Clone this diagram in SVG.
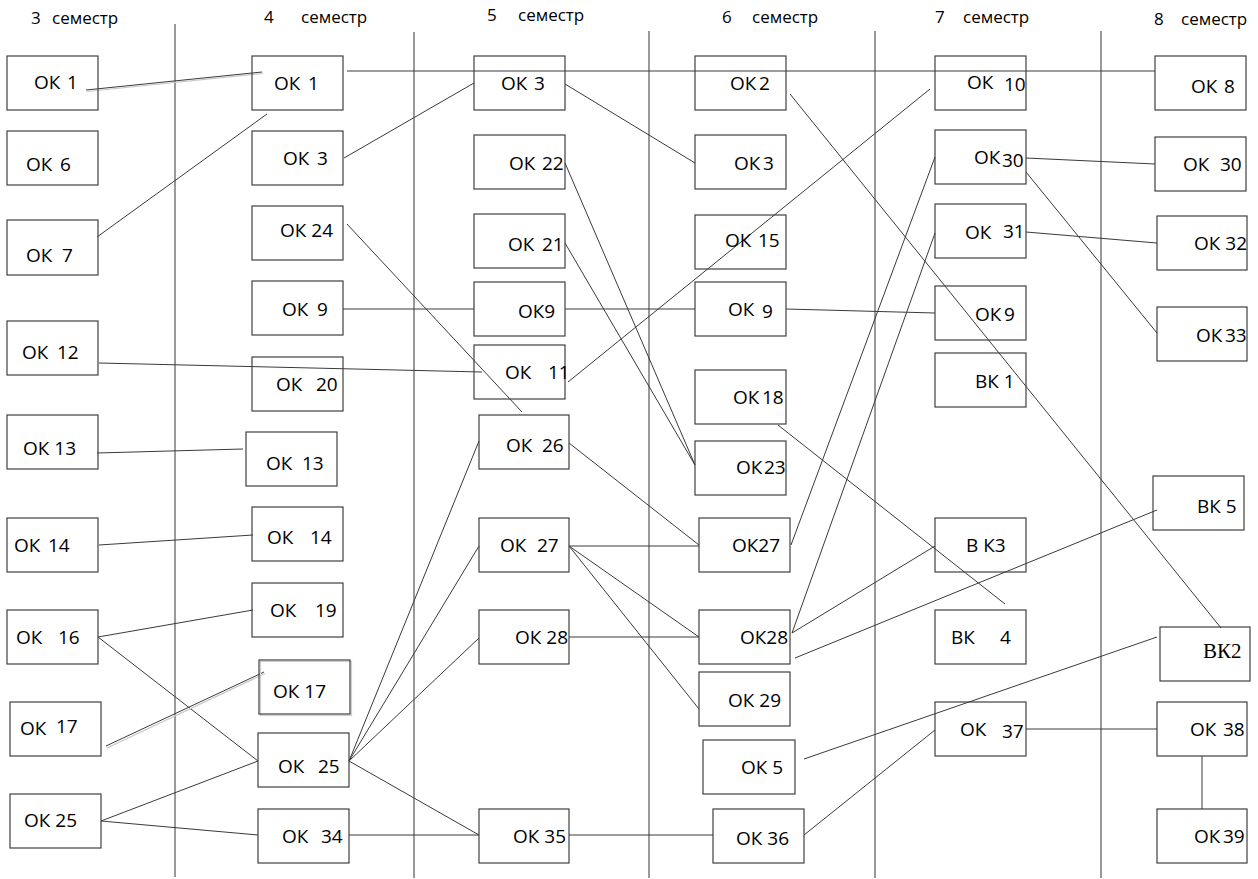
<svg xmlns="http://www.w3.org/2000/svg" width="1258" height="879" viewBox="0 0 1258 879">
<style>
rect.b{fill:none;stroke:#404040;stroke-width:1.2}
.t{font-family:"Open Sans","Noto Sans",sans-serif;font-size:19px;fill:#000}
.h{font-family:"Open Sans","Noto Sans",sans-serif;font-size:17px;fill:#000}
.s{font-family:"Liberation Serif","Times New Roman",serif;font-size:21px;fill:#000}
#dividers line{stroke:#555;stroke-width:1.2}
#connectors line{stroke:#3a3a3a;stroke-width:1}
line.sh{stroke:#c8c8c8 !important;stroke-width:1.2 !important}
</style>
<rect width="1258" height="879" fill="#fff"/>
<g id="headers">
<text class="h" x="31" y="24">3<tspan x="52">семестр</tspan></text>
<text class="h" x="264" y="23">4<tspan x="301">семестр</tspan></text>
<text class="h" x="487" y="21">5<tspan x="518">семестр</tspan></text>
<text class="h" x="722" y="23">6<tspan x="752">семестр</tspan></text>
<text class="h" x="935" y="23">7<tspan x="963">семестр</tspan></text>
<text class="h" x="1154" y="25">8<tspan x="1181">семестр</tspan></text>
</g>
<g id="dividers">
<line x1="175" y1="24" x2="175" y2="877"/>
<line x1="414" y1="32" x2="414" y2="878"/>
<line x1="649" y1="31" x2="649" y2="878"/>
<line x1="875" y1="31" x2="875" y2="878"/>
<line x1="1101" y1="31" x2="1101" y2="878"/>
</g>
<g id="connectors">
<line class="sh" x1="87" y1="91.5" x2="263" y2="73.5"/>
<line x1="86" y1="90" x2="262" y2="72"/>
<line x1="97" y1="237" x2="267" y2="114"/>
<line x1="344" y1="158" x2="474" y2="83"/>
<line x1="347" y1="71" x2="1155" y2="71"/>
<line x1="347" y1="224" x2="522" y2="412"/>
<line x1="343" y1="309" x2="474" y2="309"/>
<line x1="565" y1="309" x2="695" y2="309"/>
<line x1="786" y1="309" x2="935" y2="313"/>
<line x1="99" y1="363" x2="482" y2="372"/>
<line x1="97" y1="453" x2="243" y2="449"/>
<line x1="99" y1="545" x2="253" y2="535"/>
<line x1="98" y1="637" x2="253" y2="610"/>
<line x1="98" y1="637" x2="258" y2="761"/>
<line class="sh" x1="107" y1="748" x2="265" y2="673.5"/>
<line x1="106" y1="746" x2="264" y2="672"/>
<line x1="101" y1="821" x2="258" y2="761"/>
<line x1="101" y1="821" x2="258" y2="835"/>
<line x1="349" y1="761" x2="479" y2="441"/>
<line x1="349" y1="761" x2="479" y2="546"/>
<line x1="349" y1="761" x2="479" y2="638"/>
<line x1="349" y1="761" x2="479" y2="835"/>
<line x1="349" y1="835" x2="479" y2="835"/>
<line x1="569" y1="835" x2="713" y2="835"/>
<line x1="565" y1="84" x2="695" y2="163"/>
<line x1="565" y1="163" x2="695" y2="465"/>
<line x1="565" y1="243" x2="695" y2="465"/>
<line x1="568" y1="382" x2="930" y2="89"/>
<line x1="790" y1="94" x2="1221" y2="628"/>
<line x1="778" y1="425" x2="1005" y2="604"/>
<line x1="569" y1="443" x2="699" y2="545"/>
<line x1="569" y1="546" x2="699" y2="546"/>
<line x1="569" y1="546" x2="699" y2="637"/>
<line x1="569" y1="546" x2="699" y2="709"/>
<line x1="569" y1="637" x2="699" y2="637"/>
<line x1="791" y1="545" x2="935" y2="157"/>
<line x1="792" y1="633" x2="935" y2="233"/>
<line x1="792" y1="633" x2="935" y2="546"/>
<line x1="795" y1="658" x2="1157" y2="510"/>
<line x1="804" y1="759" x2="1157" y2="637"/>
<line x1="804" y1="835" x2="935" y2="730"/>
<line x1="1026" y1="158" x2="1155" y2="164"/>
<line x1="1026" y1="172" x2="1157" y2="333"/>
<line x1="1026" y1="232" x2="1157" y2="243"/>
<line x1="1026" y1="729" x2="1157" y2="729"/>
<line x1="1202" y1="756" x2="1202" y2="809"/>
</g>
<g id="s3-ok1"><rect class="b" x="7" y="56" width="91" height="54"/><text class="t" x="34" y="89">ОК <tspan x="67">1</tspan></text></g>
<g id="s3-ok6"><rect class="b" x="7" y="131" width="91" height="54"/><text class="t" x="26" y="171">ОК <tspan x="60">6</tspan></text></g>
<g id="s3-ok7"><rect class="b" x="7" y="220" width="91" height="55"/><text class="t" x="26" y="262">ОК <tspan x="62">7</tspan></text></g>
<g id="s3-ok12"><rect class="b" x="7" y="321" width="91" height="54"/><text class="t" x="22" y="359">ОК <tspan x="57">12</tspan></text></g>
<g id="s3-ok13"><rect class="b" x="7" y="415" width="91" height="54"/><text class="t" x="23" y="455">ОК 13</text></g>
<g id="s3-ok14"><rect class="b" x="7" y="518" width="91" height="54"/><text class="t" x="14" y="552">ОК <tspan x="48">14</tspan></text></g>
<g id="s3-ok16"><rect class="b" x="7" y="610" width="91" height="54"/><text class="t" x="16" y="644">ОК <tspan x="58">16</tspan></text></g>
<g id="s3-ok17"><rect class="b" x="10" y="702" width="91" height="54"/><text class="t" x="20" y="735">ОК <tspan x="56" y="733">17</tspan></text></g>
<g id="s3-ok25"><rect class="b" x="10" y="794" width="91" height="54"/><text class="t" x="24" y="827">ОК 25</text></g>
<g id="s4-ok1"><rect class="b" x="252" y="56" width="91" height="54"/><text class="t" x="274" y="90">ОК <tspan x="308">1</tspan></text></g>
<g id="s4-ok3"><rect class="b" x="252" y="131" width="91" height="54"/><text class="t" x="283" y="165">ОК <tspan x="317">3</tspan></text></g>
<g id="s4-ok24"><rect class="b" x="252" y="206" width="91" height="54"/><text class="t" x="280" y="237">ОК 24</text></g>
<g id="s4-ok9"><rect class="b" x="252" y="281" width="91" height="54"/><text class="t" x="282" y="316">ОК <tspan x="317">9</tspan></text></g>
<g id="s4-ok20"><rect class="b" x="252" y="357" width="91" height="54"/><text class="t" x="276" y="391">ОК <tspan x="316">20</tspan></text></g>
<g id="s4-ok13"><rect class="b" x="246" y="432" width="91" height="54"/><text class="t" x="266" y="470">ОК <tspan x="302">13</tspan></text></g>
<g id="s4-ok14"><rect class="b" x="252" y="507" width="91" height="54"/><text class="t" x="267" y="544">ОК <tspan x="310">14</tspan></text></g>
<g id="s4-ok19"><rect class="b" x="252" y="583" width="91" height="54"/><text class="t" x="270" y="617">ОК <tspan x="315">19</tspan></text></g>
<g id="s4-ok17"><rect x="260.5" y="661.5" width="91" height="54" fill="none" stroke="#d0d0d0" stroke-width="1.2"/><rect class="b" x="259" y="660" width="91" height="54"/><text class="t" x="273" y="698">ОК 17</text></g>
<g id="s4-ok25"><rect class="b" x="258" y="733" width="91" height="54"/><text class="t" x="278" y="773">ОК <tspan x="318">25</tspan></text></g>
<g id="s4-ok34"><rect class="b" x="258" y="809" width="91" height="54"/><text class="t" x="282" y="843">ОК <tspan x="321">34</tspan></text></g>
<g id="s5-ok3"><rect class="b" x="474" y="56" width="91" height="54"/><text class="t" x="501" y="90">ОК <tspan x="534">3</tspan></text></g>
<g id="s5-ok22"><rect class="b" x="474" y="135" width="91" height="54"/><text class="t" x="509" y="170">ОК <tspan x="542">22</tspan></text></g>
<g id="s5-ok21"><rect class="b" x="474" y="214" width="91" height="54"/><text class="t" x="508" y="251">ОК <tspan x="542">21</tspan></text></g>
<g id="s5-ok9"><rect class="b" x="474" y="282" width="91" height="54"/><text class="t" x="518" y="318">ОК9</text></g>
<g id="s5-ok11"><rect class="b" x="474" y="345" width="91" height="54"/><text class="t" x="505" y="379">ОК <tspan x="548">11</tspan></text></g>
<g id="s5-ok26"><rect class="b" x="479" y="415" width="90" height="54"/><text class="t" x="506" y="452">ОК <tspan x="542">26</tspan></text></g>
<g id="s5-ok27"><rect class="b" x="479" y="518" width="90" height="54"/><text class="t" x="500" y="552">ОК <tspan x="537">27</tspan></text></g>
<g id="s5-ok28"><rect class="b" x="479" y="610" width="90" height="54"/><text class="t" x="515" y="644">ОК 28</text></g>
<g id="s5-ok35"><rect class="b" x="479" y="809" width="90" height="54"/><text class="t" x="513" y="843">ОК 35</text></g>
<g id="s6-ok2"><rect class="b" x="695" y="56" width="91" height="54"/><text class="t" x="730" y="90">ОК<tspan x="759">2</tspan></text></g>
<g id="s6-ok3"><rect class="b" x="695" y="135" width="91" height="54"/><text class="t" x="734" y="170">ОК<tspan x="763">3</tspan></text></g>
<g id="s6-ok15"><rect class="b" x="695" y="215" width="91" height="54"/><text class="t" x="725" y="247">ОК<tspan x="758">15</tspan></text></g>
<g id="s6-ok9"><rect class="b" x="695" y="282" width="91" height="54"/><text class="t" x="728" y="316">ОК <tspan x="762" y="318">9</tspan></text></g>
<g id="s6-ok18"><rect class="b" x="695" y="370" width="91" height="54"/><text class="t" x="733" y="404">ОК<tspan x="762">18</tspan></text></g>
<g id="s6-ok23"><rect class="b" x="695" y="441" width="91" height="54"/><text class="t" x="736" y="474">ОК<tspan x="764">23</tspan></text></g>
<g id="s6-ok27"><rect class="b" x="699" y="518" width="91" height="54"/><text class="t" x="732" y="552">ОК27</text></g>
<g id="s6-ok28"><rect class="b" x="699" y="610" width="91" height="54"/><text class="t" x="740" y="644">ОК28</text></g>
<g id="s6-ok29"><rect class="b" x="699" y="672" width="91" height="54"/><text class="t" x="728" y="707">ОК 29</text></g>
<g id="s6-ok5"><rect class="b" x="703" y="740" width="92" height="54"/><text class="t" x="741" y="774">ОК 5</text></g>
<g id="s6-ok36"><rect class="b" x="713" y="809" width="91" height="54"/><text class="t" x="736" y="845">ОК 36</text></g>
<g id="s7-ok10"><rect class="b" x="935" y="56" width="91" height="54"/><text class="t" x="967" y="89">ОК <tspan x="1004" y="91">10</tspan></text></g>
<g id="s7-ok30"><rect class="b" x="935" y="130" width="91" height="54"/><text class="t" x="974" y="164">ОК<tspan x="1002" y="167">30</tspan></text></g>
<g id="s7-ok31"><rect class="b" x="935" y="204" width="91" height="54"/><text class="t" x="965" y="239">ОК <tspan x="1003" y="238">31</tspan></text></g>
<g id="s7-ok9"><rect class="b" x="935" y="286" width="91" height="54"/><text class="t" x="975" y="321">ОК<tspan x="1004">9</tspan></text></g>
<g id="s7-vk1"><rect class="b" x="935" y="353" width="91" height="54"/><text class="t" x="975" y="388">ВК 1</text></g>
<g id="s7-vk3"><rect class="b" x="935" y="518" width="91" height="54"/><text class="t" x="966" y="552">В К3</text></g>
<g id="s7-vk4"><rect class="b" x="935" y="610" width="91" height="54"/><text class="t" x="951" y="644">ВК <tspan x="1000">4</tspan></text></g>
<g id="s7-ok37"><rect class="b" x="935" y="702" width="91" height="54"/><text class="t" x="960" y="736">ОК <tspan x="1002" y="738">37</tspan></text></g>
<g id="s8-ok8"><rect class="b" x="1155" y="56" width="91" height="54"/><text class="t" x="1191" y="93">ОК <tspan x="1224">8</tspan></text></g>
<g id="s8-ok30"><rect class="b" x="1155" y="137" width="91" height="54"/><text class="t" x="1183" y="171">ОК <tspan x="1220">30</tspan></text></g>
<g id="s8-ok32"><rect class="b" x="1157" y="216" width="90" height="54"/><text class="t" x="1194" y="250">ОК 32</text></g>
<g id="s8-ok33"><rect class="b" x="1157" y="307" width="90" height="54"/><text class="t" x="1196" y="342">ОК<tspan x="1225">33</tspan></text></g>
<g id="s8-vk5"><rect class="b" x="1153" y="476" width="91" height="54"/><text class="t" x="1197" y="513">ВК 5</text></g>
<g id="s8-vk2"><rect class="b" x="1160" y="627" width="90" height="54"/><text class="s" x="1203" y="658">ВК2</text></g>
<g id="s8-ok38"><rect class="b" x="1157" y="702" width="90" height="54"/><text class="t" x="1190" y="736">ОК <tspan x="1223">38</tspan></text></g>
<g id="s8-ok39"><rect class="b" x="1157" y="809" width="90" height="54"/><text class="t" x="1194" y="843">ОК<tspan x="1223">39</tspan></text></g>
</svg>
